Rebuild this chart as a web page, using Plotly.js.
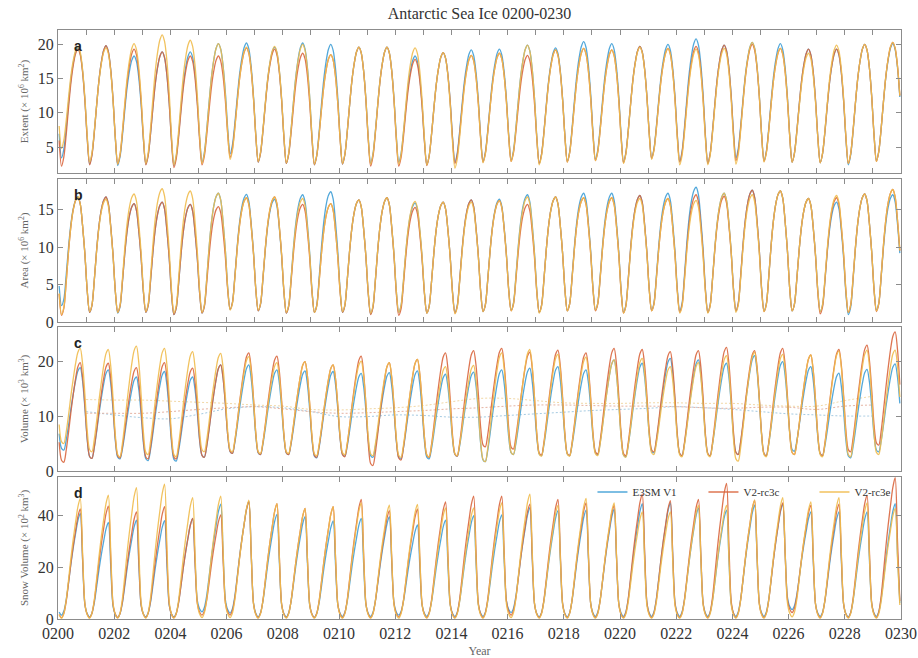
<!DOCTYPE html>
<html><head><meta charset="utf-8">
<script src="https://cdn.plot.ly/plotly-3.0.1.min.js"></script>
<style>html,body{margin:0;padding:0;background:#fff}#chart{width:918px;height:658px}</style>
</head><body><div id="chart"></div>
<script>
// ---------------- DATA ----------------
const years = [200,201,202,203,204,205,206,207,208,209,210,211,212,213,214,215,216,217,218,219,220,221,222,223,224,225,226,227,228,229];
const tickYears = [200,202,204,206,208,210,212,214,216,218,220,222,224,226,228,230];
const tickLabels = ['0200','0202','0204','0206','0208','0210','0212','0214','0216','0218','0220','0222','0224','0226','0228','0230'];
const seriesNames = ['E3SM V1','V2-rc3c','V2-rc3e'];

// seasonal cycle shapes (Jan..Dec, 0 = annual minimum, 1 = annual maximum)
const extentShape = [0.22,0,0.08,0.27,0.5,0.71,0.86,0.96,1.0,0.95,0.8,0.55];
const areaShape   = [0.18,0,0.06,0.28,0.54,0.75,0.89,0.97,1.0,0.94,0.75,0.5];
const volumeShape = [0.2,0.02,0,0.12,0.3,0.5,0.68,0.84,0.96,1.0,0.85,0.55];
const snowShape   = [0.03,0,0.04,0.15,0.32,0.5,0.66,0.8,0.93,1.0,0.55,0.12];

// (a) Extent: annual maxima (Sep) and minima (Feb, years 0200..0230)
const extentMaxE3SM = [19.5,19.8,18.3,18.9,18.9,20.1,20.2,19.6,20.2,20.0,19.6,19.6,18.3,18.8,19.2,19.3,19.9,19.5,20.4,20.1,19.7,20.0,20.8,19.9,20.3,20.1,19.3,19.3,20.0,20.1];
const extentMaxRc3c = [19.3,19.8,19.3,18.9,18.3,18.3,19.5,19.3,18.7,18.5,19.6,19.6,17.8,18.8,18.4,18.7,18.4,19.2,19.4,19.2,19.7,19.4,19.7,19.9,20.0,19.4,19.3,19.3,20.0,20.3];
const extentMaxRc3e = [19.7,19.5,20.1,21.4,20.6,20.1,19.6,19.7,20.0,18.5,19.6,19.6,19.5,18.8,18.4,18.7,19.9,19.2,19.4,19.2,19.6,19.4,19.3,19.4,20.3,19.4,18.7,19.9,20.0,20.3];
const extentMinE3SM = [3.4,2.5,2.3,2.5,2.3,2.8,4.0,2.8,2.6,2.4,2.5,2.6,2.8,2.4,2.8,2.9,3.1,2.6,2.9,3.2,2.8,3.4,2.9,2.6,3.4,3.0,2.8,2.7,2.4,3.0,2.8];
const extentMinRc3c = [2.2,2.4,2.5,2.4,2.0,2.4,3.5,2.8,2.6,2.4,2.5,2.2,2.2,2.3,2.6,2.8,2.9,2.6,2.8,3.0,2.7,3.3,2.8,2.6,3.0,2.9,2.8,2.7,2.6,2.9,3.0];
const extentMinRc3e = [4.8,2.8,2.5,2.6,2.4,2.6,3.2,2.9,2.7,2.5,2.6,2.5,2.5,2.4,1.9,2.7,2.9,2.4,2.8,3.0,2.6,3.2,2.4,2.4,2.5,2.8,2.8,2.7,2.6,2.9,3.0];

// (b) Area
const areaMaxE3SM = [16.7,16.7,15.8,16.0,15.7,17.2,17.05,16.4,17.0,17.4,16.3,16.6,15.9,16.0,16.3,16.4,17.0,16.7,17.2,17.2,16.9,17.2,18.0,17.2,17.6,17.5,16.5,16.0,17.1,17.0];
const areaMaxRc3c = [16.7,16.7,15.8,16.0,15.7,15.4,16.6,16.7,15.7,15.8,16.3,16.6,15.3,16.0,16.3,16.2,15.7,16.7,16.6,16.6,16.9,16.5,17.0,16.8,17.6,17.5,16.5,16.6,17.1,17.7];
const areaMaxRc3e = [16.7,16.4,17.1,17.8,17.5,17.2,16.6,16.7,16.5,15.8,16.3,16.6,16.1,16.0,16.0,16.2,16.7,16.7,16.6,16.6,16.5,16.5,16.25,17.2,17.0,17.5,16.5,16.9,17.1,17.7];
const areaMinE3SM = [2.2,1.3,1.2,1.3,1.0,1.2,1.7,1.5,1.2,1.3,1.3,1.1,1.3,1.2,1.3,1.4,1.6,1.3,1.5,1.6,1.3,1.6,1.5,1.3,1.5,1.5,1.5,1.4,1.0,1.6,1.4];
const areaMinRc3c = [0.9,1.3,1.3,1.3,1.0,1.2,1.7,1.5,1.2,1.3,1.3,1.0,0.9,1.2,1.2,1.4,1.5,1.3,1.5,1.5,1.2,1.5,1.3,1.3,1.5,1.4,1.5,1.1,1.3,1.4,1.4];
const areaMinRc3e = [1.0,1.4,1.3,1.4,1.2,1.3,1.6,1.6,1.3,1.3,1.4,1.2,1.3,1.2,1.1,1.4,1.5,1.2,1.5,1.6,1.2,1.5,1.2,1.2,1.3,1.4,1.5,1.4,1.3,1.5,1.4];

// (c) Volume
const volMaxE3SM = [18.8,18.4,17.1,18.1,17.1,19.3,19.3,18.4,18.2,18.1,17.75,17.9,18.2,17.6,18.0,18.4,18.7,19.0,18.4,20.2,19.6,20.5,20.2,19.6,21.0,19.9,19.0,17.8,18.5,19.5];
const volMaxRc3c = [19.7,19.6,18.8,19.7,18.7,19.3,21.5,20.9,19.9,19.3,20.9,19.7,20.3,21.5,21.9,22.3,21.6,22.0,21.5,22.3,22.1,21.7,21.9,22.5,21.9,22.3,21.1,22.1,22.9,25.3];
const volMaxRc3e = [22.3,22.1,22.7,22.3,21.7,21.4,20.8,19.7,19.9,19.3,20.0,19.7,20.3,19.0,19.2,21.5,22.1,21.2,20.7,20.2,20.5,19.0,19.7,21.0,21.6,21.2,21.1,21.8,22.0,22.0];
const volMinE3SM = [3.8,2.3,2.2,1.9,1.8,2.5,3.2,3.0,3.0,2.4,2.7,2.5,2.2,2.2,2.7,1.7,3.0,2.8,2.8,3.0,2.6,3.3,2.8,2.8,3.0,2.8,3.6,2.8,2.4,3.5,3.5];
const volMinRc3c = [1.6,2.3,2.4,2.2,2.2,2.5,3.2,3.0,3.0,2.5,2.6,1.0,2.0,2.5,2.7,4.4,4.0,2.9,2.8,3.1,2.8,3.5,2.8,2.8,3.0,2.8,3.0,2.8,3.5,4.7,4.0];
const volMinRc3e = [5.0,3.5,2.6,3.0,2.6,3.5,3.5,3.2,3.2,2.8,3.0,2.8,2.5,2.6,2.8,1.7,3.0,2.7,2.7,2.8,2.5,3.0,2.6,2.6,1.8,2.6,3.0,2.6,2.6,3.0,3.0];
// (c) running means (dotted), years 0201..0229
const meanYears = [201,202,203,204,205,206,207,208,209,210,211,212,213,214,215,216,217,218,219,220,221,222,223,224,225,226,227,228,229];
const volMeanE3SM = [10.8,10.2,9.7,9.5,10.3,11.3,11.7,11.5,10.8,9.9,9.9,10.2,10.1,9.8,9.8,10.1,10.4,10.7,11.0,11.2,11.4,11.7,11.5,11.2,10.8,10.4,10.2,10.0,10.0];
const volMeanRc3c = [10.5,10.5,10.5,10.8,11.2,11.5,11.7,11.3,10.8,10.5,10.6,10.8,11.0,11.3,11.5,11.8,12.0,12.0,11.9,11.8,11.8,11.7,11.5,11.4,11.6,11.6,11.2,11.8,12.0];
const volMeanRc3e = [13.0,12.9,12.9,12.7,12.5,12.3,12.0,11.8,11.2,11.1,11.3,11.5,11.9,12.6,13.2,13.2,12.8,12.4,12.3,12.3,12.4,12.4,12.3,12.3,12.0,11.8,11.8,12.8,13.6];

// (d) Snow volume
const snowMaxE3SM = [40.9,37.4,38.3,38.1,39.0,44.5,45.5,40.5,39.6,38.0,39.0,39.6,36.4,38.3,40.0,40.3,43.1,42.0,42.2,42.5,44.7,45.0,43.0,42.2,44.1,44.5,41.5,41.5,41.5,44.7];
const snowMaxRc3c = [42.6,43.7,41.5,43.5,39.0,40.3,45.5,44.7,42.8,43.5,46.3,42.0,42.5,45.4,47.6,47.6,44.5,46.3,45.0,44.0,48.4,45.8,46.3,52.5,46.0,45.0,44.0,44.5,48.0,54.7];
const snowMaxRc3e = [46.7,48.0,50.9,52.2,47.0,47.6,46.0,44.7,42.8,43.5,45.0,44.1,44.4,43.0,43.0,45.0,48.4,44.0,46.7,45.0,41.5,41.5,44.0,44.0,46.0,47.0,45.4,47.0,45.0,42.8];
const snowMinE3SM = [1.5,0.8,0.6,0.8,0.8,2.8,2.3,0.8,0.8,0.6,1.0,1.0,1.5,1.0,1.0,1.0,2.5,0.8,0.8,1.0,1.0,1.0,1.0,1.0,1.0,1.0,3.6,1.0,0.8,1.0,1.0];
const snowMinRc3c = [0.5,0.5,0.5,0.5,0.5,1.5,1.5,0.5,0.5,0.5,0.5,0.5,0.8,0.5,0.5,0.5,1.5,0.5,0.5,0.5,0.5,0.5,0.5,0.5,0.5,0.5,2.5,0.5,0.5,0.5,0.5];
const snowMinRc3e = [0.3,0.3,0.3,0.3,0.3,0.5,0.5,0.3,0.3,0.3,0.3,0.3,0.3,0.3,0.3,0.3,0.5,0.3,0.3,0.3,0.3,0.3,0.3,0.3,0.3,0.3,0.8,0.3,0.3,0.3,0.3];

// ---------------- BUILD ----------------
const colors = ['#3f9fd6','#d9663e','#efbb4c'];
const meanColors = ['#a6cbe2','#e6b3a2','#f2d8a6'];
const serif = '"Liberation Serif","Times New Roman",serif';

function monthly(maxArr, minArr, shape, peakMonth) {
  const x = [], y = [];
  for (let k = 0; k < maxArr.length; k++) {
    for (let m = 0; m < 12; m++) {
      let lo, hi;
      if (m === 0) { lo = minArr[k]; hi = maxArr[k > 0 ? k - 1 : 0]; }
      else if (m <= peakMonth) { lo = minArr[k]; hi = maxArr[k]; }
      else { lo = minArr[k + 1]; hi = maxArr[k]; }
      x.push(years[k] + (m + 0.5) / 12);
      y.push(lo + shape[m] * (hi - lo));
    }
  }
  return {x, y};
}

const panels = [
  {max:[extentMaxE3SM,extentMaxRc3c,extentMaxRc3e], min:[extentMinE3SM,extentMinRc3c,extentMinRc3e], shape:extentShape, peak:8},
  {max:[areaMaxE3SM,areaMaxRc3c,areaMaxRc3e], min:[areaMinE3SM,areaMinRc3c,areaMinRc3e], shape:areaShape, peak:8},
  {max:[volMaxE3SM,volMaxRc3c,volMaxRc3e], min:[volMinE3SM,volMinRc3c,volMinRc3e], shape:volumeShape, peak:9},
  {max:[snowMaxE3SM,snowMaxRc3c,snowMaxRc3e], min:[snowMinE3SM,snowMinRc3c,snowMinRc3e], shape:snowShape, peak:9}
];

const traces = [];
panels.forEach((p, i) => {
  const ax = i === 0 ? '' : String(i + 1);
  if (i === 2) {
    [volMeanE3SM, volMeanRc3c, volMeanRc3e].forEach((arr, s) => {
      traces.push({
        x: meanYears, y: arr, type: 'scatter', mode: 'lines',
        xaxis: 'x3', yaxis: 'y3', showlegend: false, hoverinfo: 'skip',
        line: {color: meanColors[s], width: 1, dash: '2px,2px', shape: 'spline'}
      });
    });
  }
  for (let s = 0; s < 3; s++) {
    const d = monthly(p.max[s], p.min[s], p.shape, p.peak);
    traces.push({
      x: d.x, y: d.y, type: 'scatter', mode: 'lines',
      xaxis: 'x' + ax, yaxis: 'y' + ax,
      name: seriesNames[s], showlegend: i === 3,
      line: {color: colors[s], width: 1.3, shape: 'spline', smoothing: 0.8},
      opacity: 0.9
    });
  }
});

const axisCommon = {
  showline: true, linecolor: '#8c8c8c', linewidth: 1, mirror: 'ticks',
  ticks: 'inside', ticklen: 5, tickcolor: '#8c8c8c', showgrid: false, zeroline: false,
  tickfont: {family: serif, size: 16, color: '#333'}, automargin: false
};
const yDomains = [[0.7572, 1.0], [0.5042, 0.747], [0.2513, 0.4958], [0, 0.2411]];
const yRanges = [[1.2, 22.1], [0, 19.1], [0, 26.2], [0, 55]];
const yTicks = [[5,10,15,20], [0,5,10,15], [0,10,20], [0,20,40]];
const yTitles = ['Extent (× 10<sup>6</sup> km<sup>2</sup>)', 'Area (× 10<sup>6</sup> km<sup>2</sup>)',
                 'Volume (× 10<sup>3</sup> km<sup>3</sup>)', 'Snow Volume (× 10<sup>2</sup> km<sup>3</sup>)'];
const allYearTicks = years.concat([230]);

const layout = {
  width: 918, height: 658,
  paper_bgcolor: '#fff', plot_bgcolor: '#fff',
  margin: {l: 58, r: 17, t: 30, b: 39, autoexpand: false},
  title: {text: 'Antarctic Sea Ice 0200-0230', x: 0.5, xref: 'paper', y: 0.98, yref: 'container', yanchor: 'middle',
          font: {family: serif, size: 16, color: '#333'}},
  showlegend: true,
  legend: {orientation: 'h', x: 0.634, xanchor: 'left', y: 0.2156, yanchor: 'middle', bgcolor: 'rgba(0,0,0,0)',
           font: {family: serif, size: 11, color: '#333'}, entrywidth: 66, tracegroupgap: 0},
  annotations: []
};
const letters = ['a','b','c','d'];
for (let i = 0; i < 4; i++) {
  const ax = i === 0 ? '' : String(i + 1);
  layout['xaxis' + ax] = Object.assign({}, axisCommon, {
    anchor: 'y' + ax, range: [200, 230],
    tickvals: i < 2 ? allYearTicks : tickYears,
    ticktext: i < 2 ? allYearTicks.map(v => '0' + v) : tickLabels,
    showticklabels: i === 3,
    title: i === 3 ? {text: 'Year', font: {family: serif, size: 12, color: '#666'}, standoff: 5} : undefined
  });
  layout['yaxis' + ax] = Object.assign({}, axisCommon, {
    anchor: 'x' + ax, domain: yDomains[i], range: yRanges[i], tickvals: yTicks[i],
    title: {text: yTitles[i], font: {family: serif, size: 11, color: '#666'}, standoff: 6}
  });
  layout.annotations.push({
    text: '<b>' + letters[i] + '</b>', xref: 'x' + ax + ' domain', yref: 'y' + ax + ' domain',
    x: 0.024, y: 0.89, showarrow: false, xanchor: 'center', yanchor: 'middle',
    font: {family: '"Liberation Sans",Arial,sans-serif', size: 14, color: '#222'}
  });
}

Plotly.newPlot('chart', traces, layout, {displayModeBar: false, staticPlot: true});
</script></body></html>
